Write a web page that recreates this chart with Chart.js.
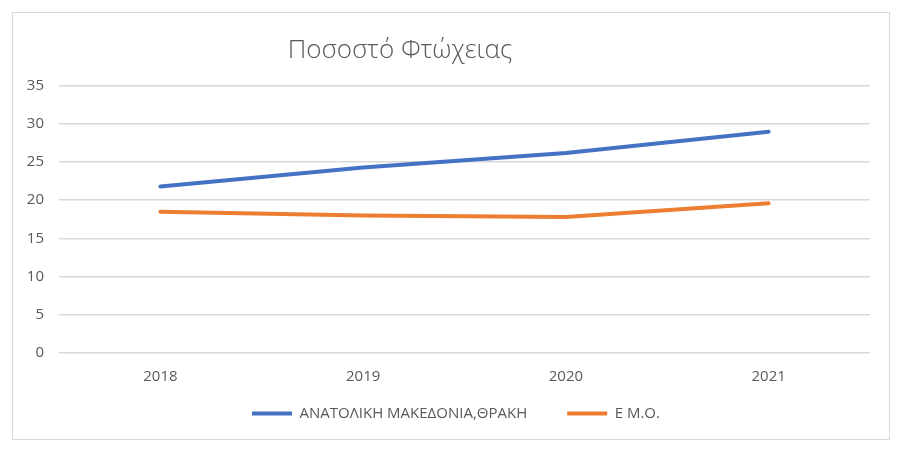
<!DOCTYPE html>
<html>
<head>
<meta charset="utf-8">
<script src="https://cdn.jsdelivr.net/npm/chart.js@4/dist/chart.umd.min.js"></script>
<style>
  html, body { margin: 0; padding: 0; background: #fff; }
  #wrap { width: 902px; height: 458px; }
</style>
</head>
<body>
<div id="wrap"><canvas id="chart1" width="902" height="458"></canvas></div>
<script>
const years = ['2018', '2019', '2020', '2021'];
const anMakThraki = [21.8, 24.3, 26.2, 29.0];
const emo = [18.5, 18.0, 17.8, 19.6];
const chartTitle = 'Ποσοστό Φτώχειας';

// wider gap between legend items, only while drawing (vertical place kept)
const legendGap = 40;
const legendShiftX = -19;

const frameAndTitle = {
    id: 'frameAndTitle',
    beforeDraw(chart) {
        const ctx = chart.ctx;
        ctx.save();
        ctx.strokeStyle = '#d9d9d9';
        ctx.lineWidth = 1;
        ctx.strokeRect(12.5, 12.5, 877, 427);
        ctx.restore();

        const lg = chart.legend;
        if (lg) {
            this._pad = lg.options.labels.padding;
            this._diff = legendGap - this._pad;
            lg.options.labels.padding = legendGap;
            lg.top -= this._diff;
            lg.left += legendShiftX;
            lg.right += legendShiftX;
        }
    },
    afterDraw(chart) {
        const lg = chart.legend;
        if (lg && this._diff !== undefined) {
            lg.options.labels.padding = this._pad;
            lg.top += this._diff;
            lg.left -= legendShiftX;
            lg.right -= legendShiftX;
        }
        const ctx = chart.ctx;
        ctx.save();
        ctx.fillStyle = '#595959';
        ctx.font = '300 26px "Open Sans"';
        ctx.textAlign = 'center';
        ctx.textBaseline = 'middle';
        ctx.fillText(chartTitle, 400, 51);
        ctx.restore();
    }
};

const ctx1 = document.getElementById('chart1').getContext('2d');
const myChart1 = new Chart(ctx1, {
    type: 'line',
    data: {
        labels: years,
        datasets: [{
            label: 'ΑΝΑΤΟΛΙΚΗ ΜΑΚΕΔΟΝΙΑ,ΘΡΑΚΗ',
            data: anMakThraki,
            borderColor: '#4472c4',
            backgroundColor: '#4472c4',
            borderWidth: 4,
            borderCapStyle: 'round',
            pointRadius: 0,
            tension: 0
        }, {
            label: 'Ε Μ.Ο.',
            data: emo,
            borderColor: '#ed7d31',
            backgroundColor: '#ed7d31',
            borderWidth: 4,
            borderCapStyle: 'round',
            pointRadius: 0,
            tension: 0
        }]
    },
    options: {
        responsive: false,
        animation: false,
        layout: {
            padding: { left: 20, right: 32, top: 86, bottom: 27 }
        },
        plugins: {
            legend: {
                position: 'bottom',
                labels: {
                    boxWidth: 40,
                    boxHeight: 4,
                    padding: 10,
                    color: '#595959',
                    font: { family: '"Open Sans"', size: 15 },
                    generateLabels(chart) {
                        const items = Chart.defaults.plugins.legend.labels.generateLabels(chart);
                        items.forEach(item => { item.lineWidth = 0; });
                        return items;
                    }
                }
            },
            tooltip: { enabled: false }
        },
        scales: {
            x: {
                offset: true,
                grid: { display: false, drawTicks: false },
                border: { display: false },
                ticks: {
                    color: '#595959',
                    padding: 15,
                    font: { family: '"Open Sans"', size: 15 }
                },
                afterFit(scale) { scale.height = 43.5; }
            },
            y: {
                min: 0,
                max: 35,
                ticks: {
                    stepSize: 5,
                    color: '#595959',
                    padding: 15,
                    font: { family: '"Open Sans"', size: 15 }
                },
                grid: { color: '#d9d9d9', lineWidth: 1.5, drawTicks: false },
                border: { display: false },
                afterFit(scale) { scale.width = 39; }
            }
        }
    },
    plugins: [frameAndTitle]
});
</script>
</body>
</html>
